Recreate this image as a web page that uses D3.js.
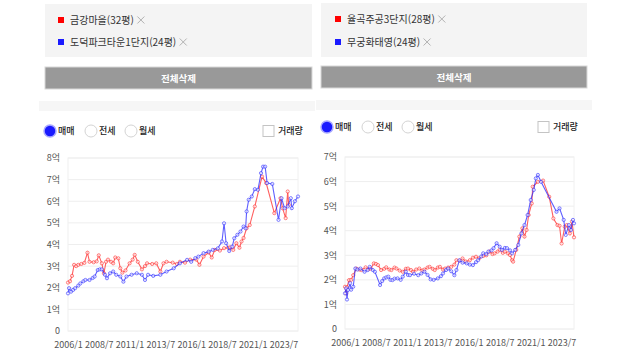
<!DOCTYPE html>
<html lang="ko">
<head>
    <meta charset="UTF-8">
    <title>아파트 매매가 비교</title>
    <script src="https://cdn.jsdelivr.net/npm/d3@7"></script>
    <style>
        html, body { margin: 0; padding: 0; background: #fff; }
        svg text { font-family: "Noto Sans CJK KR", "Noto Sans", sans-serif; }
    </style>
</head>
<body>
<svg id="chart" width="628" height="353"></svg>
<script>
    // x axis tick labels (every 30 months)
    const xTickLabels = ["2006/1", "2008/7", "2011/1", "2013/7", "2016/1", "2018/7", "2021/1", "2023/7"];
    const radioLabels = ["매매", "전세", "월세"];

    // left panel
    const leftNames = ["금강마을(32평)", "도덕파크타운1단지(24평)"];
    const leftRedDates = ["2006-01","2006-03","2006-05","2006-07","2006-09","2006-11","2007-02","2007-05","2007-08","2007-10",
        "2008-02","2008-05","2008-07","2008-10","2008-12","2009-02","2009-04","2009-07","2009-09","2009-11",
        "2010-02","2010-04","2010-06","2010-09","2011-01","2011-04","2011-06","2011-09","2012-01","2012-04",
        "2012-06","2012-11","2013-03","2013-07","2013-10","2014-01","2014-07","2014-11","2015-02","2015-07",
        "2015-12","2016-06","2016-09","2017-01","2017-06","2017-09","2017-12","2018-05","2018-09","2019-01",
        "2019-03","2019-06","2019-09","2019-12","2020-02","2020-04","2020-07","2020-10","2021-03","2021-10",
        "2022-02","2022-10","2023-04","2023-06","2023-09","2023-11","2023-12"];
    const leftRedValues = [2.24,2.3,2.55,3.06,3.0,3.06,3.1,3.15,3.62,3.2,
        3.18,3.22,3.5,3.13,2.67,3.2,3.3,3.2,3.13,3.4,
        3.36,2.9,2.7,2.8,3.13,3.3,3.52,3.2,2.85,3.0,
        3.13,3.1,3.13,2.75,3.13,3.2,3.16,3.1,3.2,3.16,
        3.3,3.3,3.06,3.44,3.63,3.4,3.75,3.72,3.83,3.85,
        3.87,3.75,4.06,3.85,4.14,4.3,4.75,4.9,5.76,7.14,
        6.84,5.45,6.14,5.68,5.22,6.45,5.83];
    const leftBlueDates = ["2006-01","2006-02","2006-04","2006-06","2006-08","2006-11","2007-01","2007-04","2007-06","2007-10",
        "2008-01","2008-03","2008-06","2008-08","2008-10","2009-01","2009-03","2009-06","2009-09","2009-12",
        "2010-04","2010-07","2010-10","2011-03","2011-08","2012-01","2012-04","2012-07","2012-12","2013-07",
        "2014-01","2014-08","2015-02","2015-09","2016-01","2016-05","2016-08","2017-01","2017-06","2017-10",
        "2018-03","2018-07","2018-09","2018-11","2019-02","2019-05","2019-07","2019-10","2020-01","2020-04",
        "2020-06","2020-07","2020-09","2020-12","2021-03","2021-06","2021-09","2021-11","2022-01","2022-03",
        "2022-08","2023-02","2023-05","2023-08","2023-11","2024-02","2024-03","2024-06","2024-09"];
    const leftBlueValues = [1.74,1.98,1.82,1.9,1.98,2.1,2.2,2.3,2.36,2.36,
        2.45,2.52,2.82,2.85,2.85,2.6,2.44,2.67,2.75,2.6,
        2.52,2.28,2.52,2.6,2.67,2.6,2.36,2.6,2.55,2.6,
        2.75,2.9,3.13,3.29,3.2,3.37,3.44,3.6,3.67,3.75,
        3.82,4.14,4.98,4.06,3.7,3.9,4.29,4.45,4.6,4.83,
        4.75,5.53,6.07,6.22,6.56,6.53,7.3,7.6,7.6,6.84,
        6.8,5.14,6.14,5.68,5.76,6.14,5.68,6.0,6.22];

    // right panel
    const rightNames = ["율곡주공3단지(28평)", "무궁화태영(24평)"];
    const rightRedDates = ["2006-01","2006-02","2006-03","2006-05","2006-07","2006-09","2006-12","2007-03","2007-05","2007-09",
        "2007-12","2008-02","2008-05","2008-07","2008-09","2008-12","2009-03","2009-05","2009-08","2009-10",
        "2010-01","2010-03","2010-06","2010-09","2010-12","2011-02","2011-05","2011-07","2011-10","2012-01",
        "2012-04","2012-06","2012-09","2012-11","2013-02","2013-04","2013-07","2013-09","2013-12","2014-02",
        "2014-05","2014-08","2014-11","2015-01","2015-04","2015-07","2015-10","2016-02","2016-05","2016-08",
        "2016-11","2017-03","2017-06","2017-09","2017-12","2018-02","2018-05","2018-07","2018-10","2018-12",
        "2019-03","2019-05","2019-07","2019-08","2019-11","2020-02","2020-05","2020-07","2020-09","2020-11",
        "2021-02","2021-03","2021-08","2022-01","2022-07","2022-11","2023-03","2023-05","2023-07","2023-10",
        "2023-12","2024-03","2024-05","2024-07"];
    const rightRedValues = [1.72,1.45,1.7,1.99,2.0,2.19,2.46,2.42,2.4,2.51,
        2.44,2.46,2.67,2.65,2.6,2.4,2.45,2.51,2.42,2.4,
        2.5,2.46,2.38,2.33,2.45,2.46,2.4,2.33,2.42,2.46,
        2.38,2.42,2.5,2.53,2.45,2.4,2.5,2.53,2.42,2.46,
        2.5,2.53,2.62,2.8,2.78,2.87,2.75,2.8,2.9,2.94,
        2.88,2.97,3.0,3.15,3.05,3.08,3.15,3.22,3.1,3.15,
        3.08,3.01,2.8,2.74,3.22,3.76,4.1,3.76,4.03,4.64,
        5.11,5.79,5.99,6.04,5.38,4.5,4.23,4.2,3.48,4.16,
        4.23,3.89,4.37,3.73];
    const rightBlueDates = ["2006-01","2006-02","2006-03","2006-04","2006-06","2006-07","2006-09","2006-11","2007-01","2007-04",
        "2007-08","2007-11","2008-01","2008-04","2008-06","2008-11","2009-01","2009-03","2009-05","2009-07",
        "2009-09","2009-11","2010-01","2010-04","2010-07","2010-09","2010-12","2011-02","2011-04","2011-08",
        "2011-12","2012-03","2012-06","2012-09","2012-12","2013-03","2013-07","2013-10","2013-12","2014-03",
        "2014-05","2014-08","2014-11","2015-01","2015-04","2015-07","2015-11","2016-02","2016-05","2016-08",
        "2016-10","2017-01","2017-03","2017-06","2017-08","2017-11","2018-01","2018-04","2018-07","2018-09",
        "2018-12","2019-02","2019-05","2019-07","2019-10","2020-01","2020-04","2020-07","2020-10","2021-01",
        "2021-04","2021-06","2021-08","2021-11","2023-02","2023-05","2023-09","2023-11","2024-02","2024-04",
        "2024-06","2024-07"];
    const rightBlueValues = [1.45,1.65,1.2,1.59,1.86,1.6,1.72,2.46,2.42,2.46,
        2.33,2.4,2.53,2.4,2.33,1.79,1.95,2.06,2.1,2.13,
        2.0,1.99,2.05,2.06,2.0,2.13,2.33,2.2,2.19,2.25,
        2.19,2.26,2.33,2.2,2.02,2.0,2.06,2.15,2.26,2.4,
        2.46,2.35,2.19,2.4,2.8,2.7,2.67,2.62,2.6,2.72,
        2.8,2.95,3.08,3.05,3.15,3.2,3.29,3.49,3.35,3.22,
        3.3,3.29,3.2,3.08,3.22,3.42,3.89,4.23,4.64,5.25,
        5.66,6.13,6.27,5.99,4.77,4.91,4.44,3.83,4.23,4.03,
        4.44,4.3];

    const parseMonth = d3.timeParse("%Y-%m");
    const parseTick = d3.timeParse("%Y/%m");
    const svg = d3.select("#chart");

    function zip(dates, values) {
        return dates.map((d, i) => ({ date: parseMonth(d), v: values[i] }));
    }

    function drawPanel(p) {
        const g = svg.append("g");

        // legend box with the two complexes
        g.append("rect").attr("x", p.boxX).attr("y", p.boxY).attr("width", p.boxW).attr("height", p.boxH)
            .attr("fill", "#f4f4f4");
        p.names.forEach((name, i) => {
            const cy = p.itemY[i];
            g.append("rect").attr("x", p.sqX).attr("y", cy - 3).attr("width", 6).attr("height", 6)
                .attr("fill", i === 0 ? "#ff0000" : "#1a1aff");
            const t = g.append("text").attr("x", p.sqX + 12).attr("y", cy + 3.5)
                .attr("font-size", 10).attr("fill", "#333").text(name);
            const cx = p.sqX + 12 + t.node().getComputedTextLength() + 7;
            g.append("path")
                .attr("d", `M${cx - 3.5},${cy - 3.5}L${cx + 3.5},${cy + 3.5}M${cx + 3.5},${cy - 3.5}L${cx - 3.5},${cy + 3.5}`)
                .attr("stroke", "#aaa").attr("stroke-width", 0.9);
        });

        // delete-all button
        g.append("rect").attr("x", p.boxX).attr("y", p.btnY).attr("width", p.boxW).attr("height", 22)
            .attr("fill", "#999").attr("stroke", "#d8d8d8").attr("stroke-width", 1);
        g.append("text").attr("x", p.boxX + p.boxW / 2).attr("y", p.btnY + 14.5)
            .attr("text-anchor", "middle").attr("font-size", 9.5).attr("font-weight", "bold")
            .attr("fill", "#fff").text("전체삭제");

        // separator band
        g.append("rect").attr("x", p.bandX).attr("y", p.bandY).attr("width", 276).attr("height", 10)
            .attr("fill", "#f6f6f6");

        // radios
        radioLabels.forEach((lab, i) => {
            const cx = p.radioX[i];
            if (i === 0) {
                g.append("circle").attr("cx", cx).attr("cy", p.radioY).attr("r", 6)
                    .attr("fill", "#1a1aff").attr("stroke", "#a8a8ff").attr("stroke-width", 1.5);
            } else {
                g.append("circle").attr("cx", cx).attr("cy", p.radioY).attr("r", 6)
                    .attr("fill", "#fff").attr("stroke", "#d4d4d4").attr("stroke-width", 1);
            }
            g.append("text").attr("x", cx + 8).attr("y", p.radioY + 3.3)
                .attr("font-size", 9).attr("font-weight", 500).attr("fill", "#222").text(lab);
        });
        g.append("rect").attr("x", p.chkX).attr("y", p.radioY - 5.5).attr("width", 11).attr("height", 11)
            .attr("fill", "#fff").attr("stroke", "#c4c4c4");
        g.append("text").attr("x", p.chkX + 15).attr("y", p.radioY + 3.3)
            .attr("font-size", 9).attr("font-weight", 500).attr("fill", "#222").text("거래량");

        // scales
        const x = d3.scaleTime().domain([parseMonth(p.xStart), parseMonth(p.xEnd)]).range([p.left, p.right]);
        const y = d3.scaleLinear().domain([0, p.yMax]).range([p.bottom, p.top]);

        // grid
        g.append("g").selectAll("line").data(d3.range(0, p.yMax + 1)).join("line")
            .attr("x1", p.left).attr("x2", p.right)
            .attr("y1", d => y(d)).attr("y2", d => y(d))
            .attr("stroke", "#eeeeee").attr("stroke-width", 1);
        g.append("rect").attr("x", p.left).attr("y", p.top).attr("width", p.right - p.left)
            .attr("height", p.bottom - p.top).attr("fill", "none").attr("stroke", "#f0f0f0");

        // axes
        const yAxis = d3.axisLeft(y).tickValues(d3.range(0, p.yMax + 1))
            .tickSize(0).tickPadding(8).tickFormat(d => d === 0 ? "0" : d + "억");
        const ya = g.append("g").attr("transform", `translate(${p.left},0)`).call(yAxis);
        ya.select(".domain").remove();
        ya.selectAll("text").attr("font-size", 9).attr("fill", "#555")
            .attr("font-family", '"Noto Sans CJK KR", sans-serif');

        const xAxis = d3.axisBottom(x).tickValues(xTickLabels.map(parseTick))
            .tickSize(0).tickPadding(p.xPad).tickFormat(d3.timeFormat("%Y/%-m"));
        const xa = g.append("g").attr("transform", `translate(0,${p.bottom})`).call(xAxis);
        xa.select(".domain").remove();
        xa.selectAll("text").attr("font-size", 9).attr("fill", "#555")
            .attr("font-family", '"Noto Sans CJK KR", sans-serif');

        // series
        const line = d3.line().x(d => x(d.date)).y(d => y(d.v));
        p.series.forEach(s => {
            const data = zip(s.dates, s.values);
            g.append("path").datum(data).attr("d", line)
                .attr("fill", "none").attr("stroke", s.color).attr("stroke-width", 1.1).attr("stroke-opacity", 0.75);
            g.append("g").selectAll("circle").data(data).join("circle")
                .attr("cx", d => x(d.date)).attr("cy", d => y(d.v)).attr("r", 1.6)
                .attr("fill", "#fff").attr("fill-opacity", 0.6)
                .attr("stroke", s.color).attr("stroke-opacity", 0.75).attr("stroke-width", 0.8);
        });
    }

    drawPanel({
        names: leftNames,
        boxX: 45, boxY: 4, boxW: 267, boxH: 53, sqX: 58, itemY: [20, 42],
        btnY: 67, bandX: 39, bandY: 101,
        radioX: [50, 91, 131], radioY: 131, chkX: 263,
        xStart: "2006-01", xEnd: "2024-09", left: 68, right: 298,
        yMax: 8, top: 158, bottom: 331, xPad: 11,
        series: [
            { dates: leftRedDates, values: leftRedValues, color: "#ff2a2a" },
            { dates: leftBlueDates, values: leftBlueValues, color: "#2a2aff" }
        ]
    });

    drawPanel({
        names: rightNames,
        boxX: 321, boxY: 3, boxW: 266, boxH: 54, sqX: 335, itemY: [19, 42],
        btnY: 66, bandX: 316, bandY: 100,
        radioX: [327, 368, 408], radioY: 127, chkX: 538,
        xStart: "2006-01", xEnd: "2024-07", left: 345, right: 574,
        yMax: 7, top: 157, bottom: 329, xPad: 11,
        series: [
            { dates: rightRedDates, values: rightRedValues, color: "#ff2a2a" },
            { dates: rightBlueDates, values: rightBlueValues, color: "#2a2aff" }
        ]
    });
</script>
</body>
</html>
